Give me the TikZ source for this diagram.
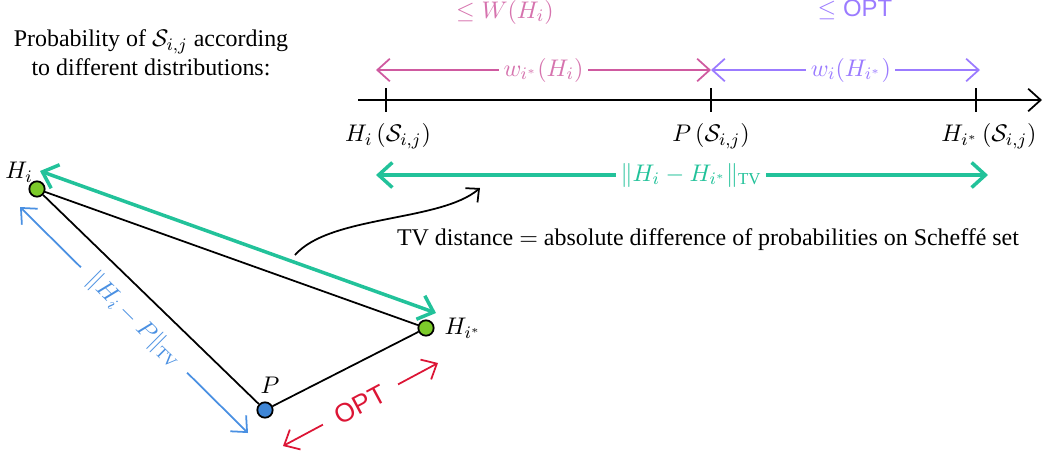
\documentclass[tikz,border=0pt]{standalone}
\usepackage{amsmath,amssymb}
\usepackage{fontspec}
\setmainfont{Liberation Serif}
\setsansfont{Liberation Sans}
\usepackage{tikz}
\usetikzlibrary{arrows.meta,positioning,calc}
\usepackage{xcolor}
\definecolor{fpink}{HTML}{CF5AA0}
\definecolor{fviolet}{HTML}{9B7BFF}
\definecolor{fteal}{HTML}{22C29A}
\definecolor{fblue}{HTML}{4A90E2}
\definecolor{fred}{HTML}{DC1535}
\definecolor{fgreen}{HTML}{7CCB2A}
\definecolor{fdot}{HTML}{3F86D6}
\tikzset{
  hyp/.style     = {draw, thick, circle, inner sep=0pt, minimum size=7pt, fill=fgreen},
  truth/.style   = {draw, thick, circle, inner sep=0pt, minimum size=7pt, fill=fdot},
  gap/.style     = {fill=white, inner sep=2pt},
  dist/.style    = {{Straight Barb[length=2mm,width=3.6mm]}-{Straight Barb[length=2mm,width=3.6mm]}, thick},
  tvarrow/.style = {{Straight Barb[length=2.2mm,width=4mm]}-{Straight Barb[length=2.2mm,width=4mm]},
                    line width=1.6pt, fteal},
}

\begin{document}
\begin{tikzpicture}[x=0.016cm,y=-0.016cm,font=\fontsize{10.9}{13}\selectfont]
\useasboundingbox (0,0) rectangle (1044,454);
\node[align=center] (caption) at (151,53) {Probability of $\mathcal{S}_{i,j}$ according\\to different distributions:};

% number line of probabilities
\coordinate (ax0) at (358,100);
\coordinate (ax1) at (1042,100);
\draw[thick,-{Straight Barb[length=2mm,width=3.6mm]}] (ax0) -- (ax1);
\foreach \n/\x in {hi/386,p/711,hs/976}{
  \coordinate (t\n) at (\x,100);
  \draw[thick] ($(t\n)+(0,-12)$) -- ($(t\n)+(0,12)$);
}
\node (lhi) at (388,136) {$H_i\,(\mathcal{S}_{i,j})$};
\node (lp)  at (711,136) {$P\,(\mathcal{S}_{i,j})$};
\node (lhs) at (989,136) {$H_{i^*}\,(\mathcal{S}_{i,j})$};

\coordinate (wa) at (376,70);
\coordinate (wb) at (711,70);
\coordinate (wc) at (980,70);
\draw[dist,fpink] (wa) -- node[gap,text=fpink!85]{$w_{i^*}(H_i)$} (wb);
\draw[dist,fviolet] (wb) -- node[gap,pos=0.52]{$w_i(H_{i^*})$} (wc);
\node[fpink!85] (boundw) at (505,12) {$\le W(H_i)$};
\node[fviolet] (boundopt) at (855,10) {$\le \textsf{OPT}$};

\coordinate (tva) at (376,175);
\coordinate (tvb) at (988,175);
\draw[tvarrow] (tva) -- node[gap,pos=0.515]{$\|H_i-H_{i^*}\|_{\text{TV}}$} (tvb);

% triangle of distributions
\node[hyp]   (hi) at (37,189) {};
\node[hyp]   (hs) at (426,328) {};
\node[truth] (p)  at (265,410) {};
\node (hilbl) at (19,172) {$H_i$};
\node[right=1pt of hs] (hslbl) {$H_{i^*}$};
\node (plbl) at (270,385) {$P$};
\draw[thick] (hi) -- (hs) -- (p) -- (hi);

\coordinate (ta) at (40,171);
\coordinate (tb) at (436,313);
\draw[tvarrow] (ta) -- (tb);

\coordinate (ba) at (20,207);
\coordinate (bb) at (248,433);
\draw[dist,fblue] (ba) -- node[gap,sloped,inner xsep=6pt]{$\|H_i-P\|_{\text{TV}}$} (bb);

\coordinate (ra) at (283,446);
\coordinate (rb) at (438,363);
\draw[dist,fred] (ra) -- node[gap,sloped,inner xsep=7pt,font=\sffamily\large]{OPT} (rb);

\coordinate (cs) at (295,255);
\coordinate (ce) at (480,188);
\draw[thick,-{Straight Barb[length=1.6mm,width=3mm]}] (cs) .. controls (330,215) and (440,222) .. (ce);
\node (scheffe) at (708,240) {TV distance $=$ absolute difference of probabilities on Scheffé set};
\end{tikzpicture}
\end{document}
